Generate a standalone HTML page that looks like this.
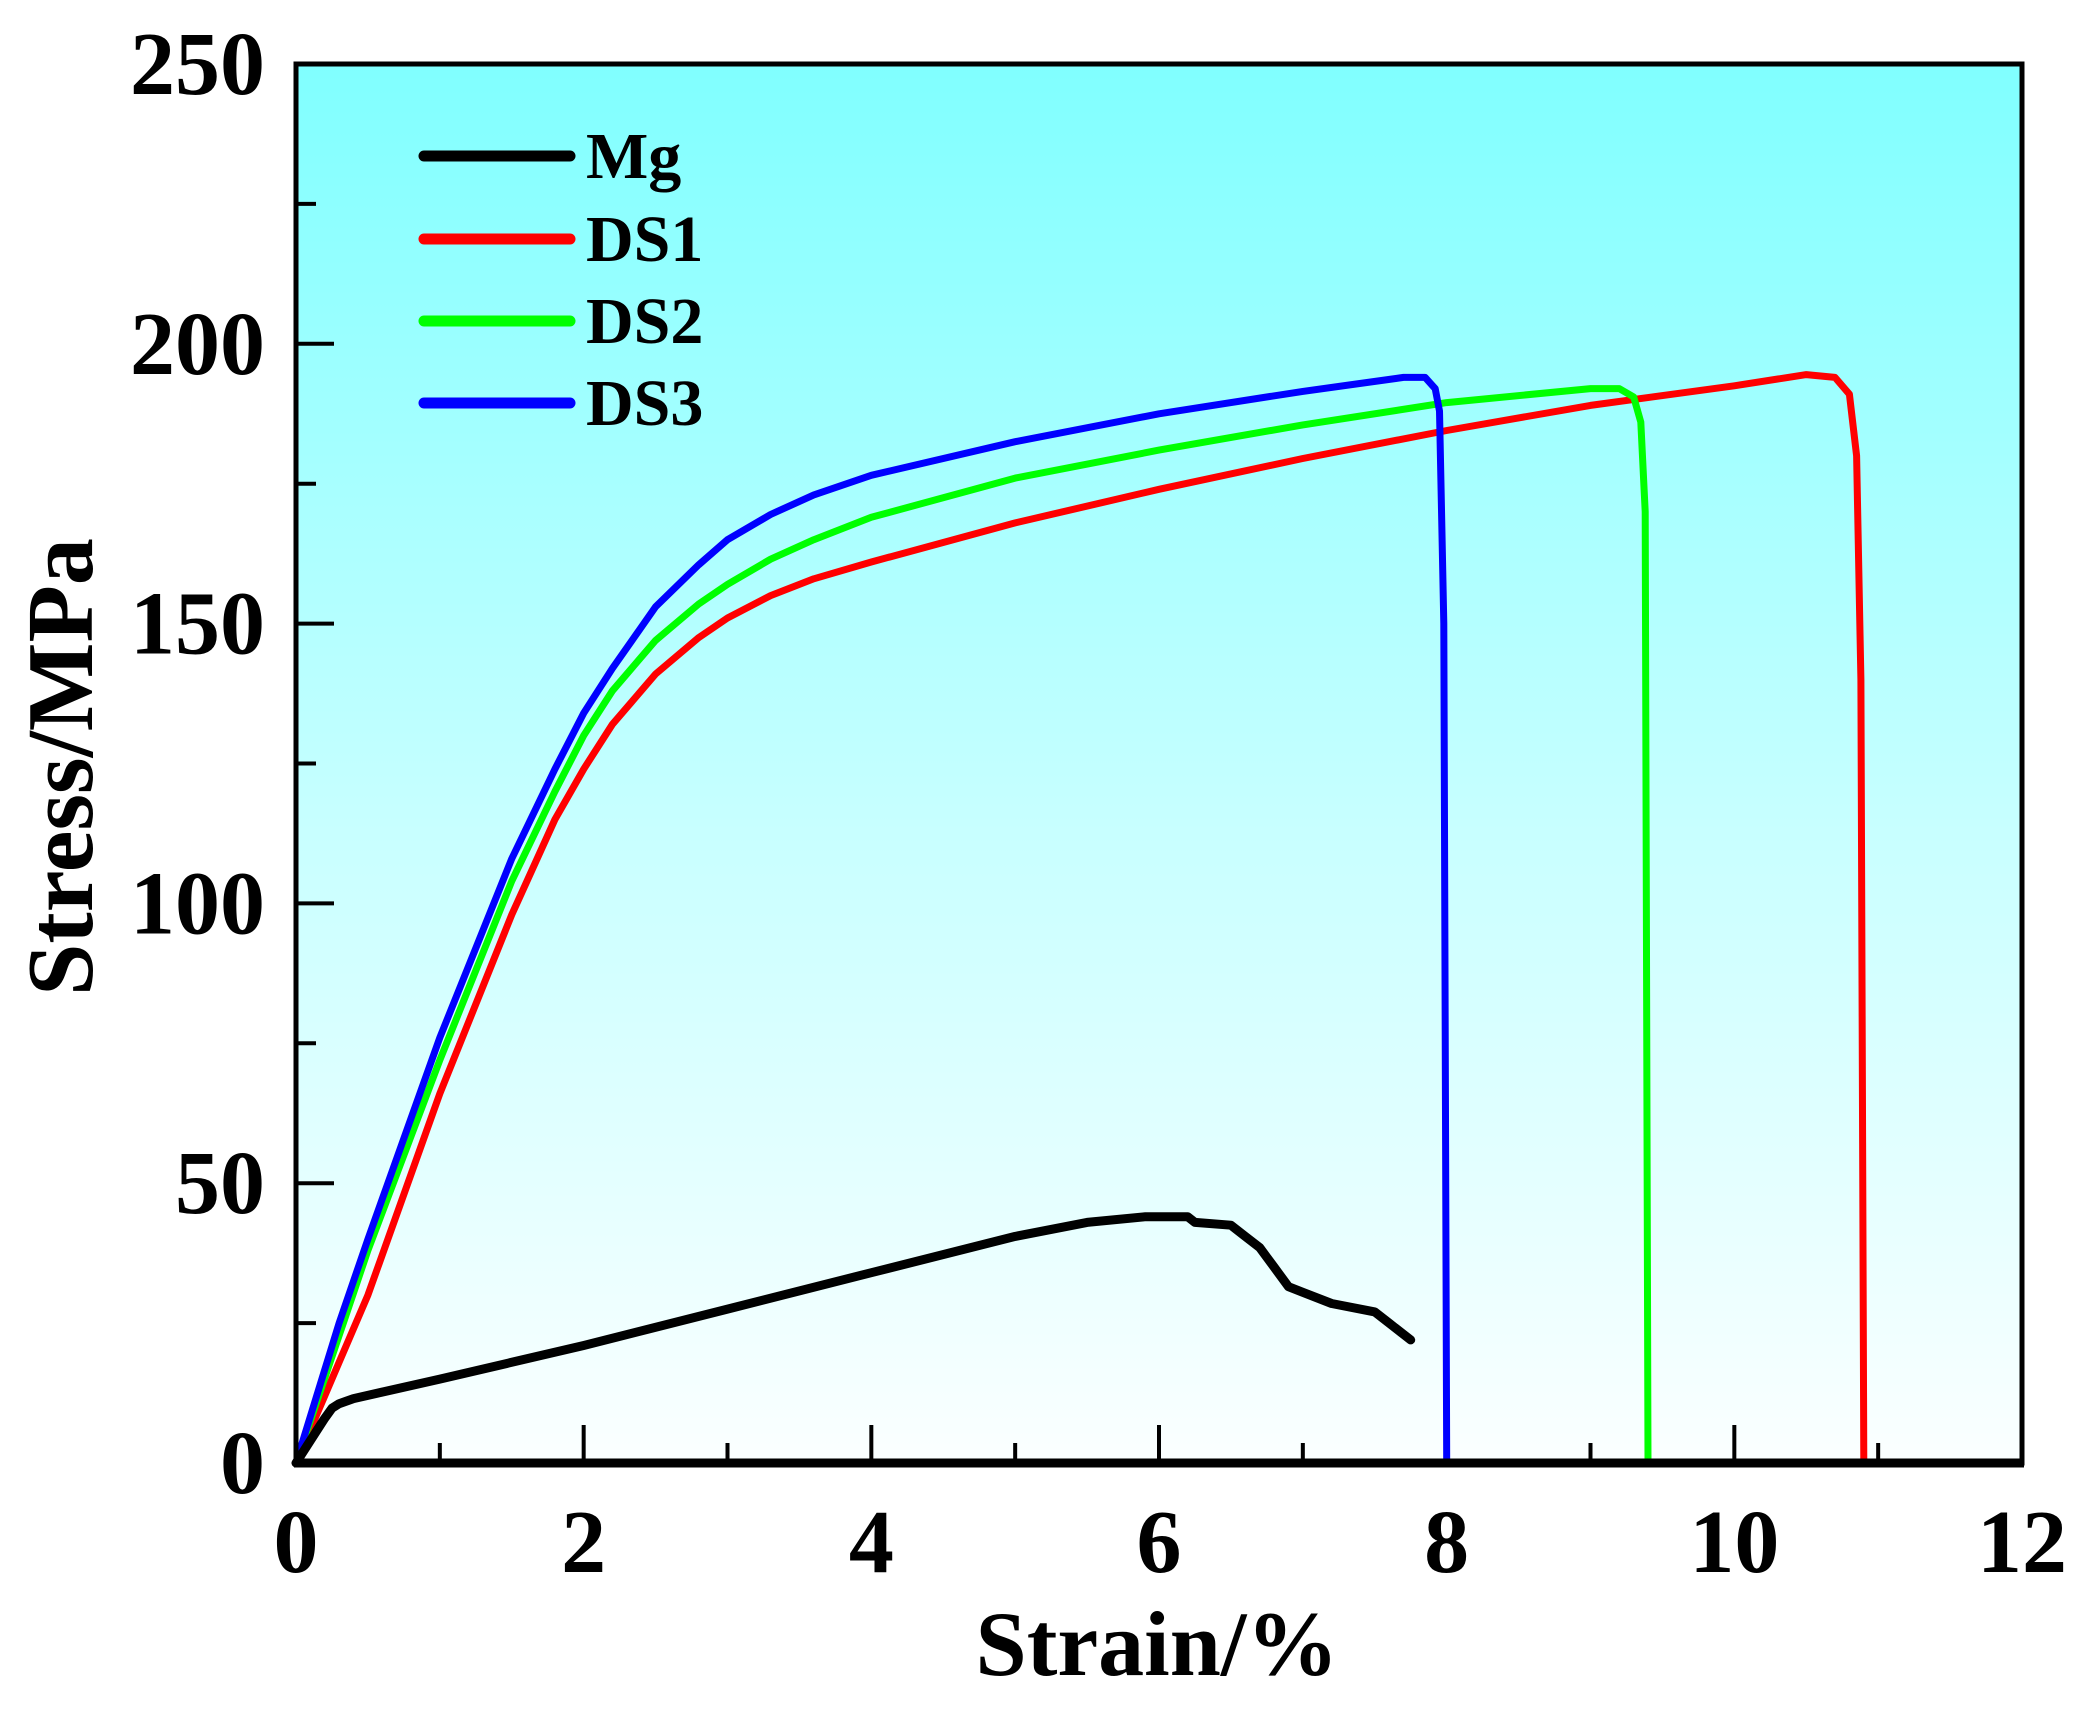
<!DOCTYPE html>
<html><head><meta charset="utf-8">
<style>html,body{margin:0;padding:0;background:#fff;}svg{display:block;}svg text{font-family:"Liberation Serif","Times New Roman",serif;font-weight:bold;}</style></head>
<body>
<svg id="chart" width="2091" height="1710" viewBox="0 0 2091 1710" xmlns="http://www.w3.org/2000/svg">
<defs><linearGradient id="bg" x1="0" y1="0" x2="0" y2="1"><stop offset="0" stop-color="#80ffff"/><stop offset="0.55" stop-color="#c8ffff"/><stop offset="1" stop-color="#fbffff"/></linearGradient></defs>
<rect x="296" y="64" width="1726" height="1399" fill="url(#bg)"/>
<g id="ticks"></g>
<g id="series"></g>
<rect x="296" y="64" width="1726" height="1399" fill="none" stroke="#000" stroke-width="5"/>
<line x1="294" y1="1463" x2="2024" y2="1463" stroke="#000" stroke-width="9"/>
<text transform="translate(92,767) rotate(-90)" text-anchor="middle" font-size="94">Stress/MPa</text>
<text x="1157" y="1675" text-anchor="middle" font-size="92">Strain/%</text>
<g>
<line x1="424" y1="156" x2="570" y2="156" stroke="#000" stroke-width="11" stroke-linecap="round"/>
<text x="586" y="178" font-size="66">Mg</text>
<line x1="424" y1="239" x2="570" y2="239" stroke="#ff0000" stroke-width="11" stroke-linecap="round"/>
<text x="586" y="261" font-size="66">DS1</text>
<line x1="424" y1="321" x2="570" y2="321" stroke="#00ff00" stroke-width="11" stroke-linecap="round"/>
<text x="586" y="343" font-size="66">DS2</text>
<line x1="424" y1="403" x2="570" y2="403" stroke="#0000ff" stroke-width="11" stroke-linecap="round"/>
<text x="586" y="425" font-size="66">DS3</text>
</g>
</svg>
<script>
const xTicks = [0, 2, 4, 6, 8, 10, 12];
const yTicks = [0, 50, 100, 150, 200, 250];
const mgStrain = [0,0.1,0.2,0.25,0.3,0.4,1,2,3,4,5,5.5,5.9,6.2,6.25,6.5,6.6,6.7,6.8,6.9,7.0,7.2,7.5,7.6,7.7,7.75];
const mgStress = [0,4,8,9.8,10.6,11.5,15,21,27.5,34,40.5,43,44,44,43,42.5,40.5,38.5,35,31.5,30.5,28.5,27,25,23,22];
const ds1Strain = [0,0.3,0.5,1,1.5,1.8,2,2.2,2.5,2.8,3,3.3,3.6,4,5,6,7,8,9,10,10.5,10.7,10.8,10.85,10.88,10.9];
const ds1Stress = [0,18,30,66,98,115,124,132,141,147.5,151,155,158,161,168,174,179.5,184.5,189,192.5,194.5,194,191,180,140,0];
const ds2Strain = [0,0.5,1,1.5,1.8,2,2.2,2.5,2.8,3,3.3,3.6,4,5,6,7,8,9,9.2,9.3,9.35,9.38,9.4];
const ds2Stress = [0,38,72,104,120,130,138,147,153.5,157,161.5,165,169,176,181,185.5,189.5,192,192,190.5,186,170,0];
const ds3Strain = [0,0.3,0.5,1,1.5,1.8,2,2.2,2.5,2.8,3,3.3,3.6,4,5,6,7,7.7,7.85,7.92,7.95,7.98,8.0];
const ds3Stress = [0,25,40,76,108,124,134,142,153,160.5,165,169.5,173,176.5,182.5,187.5,191.5,194,194,192,188,150,0];

const X0=296,X1=2022,Y0=1463,Y1=64;
function xs(v){return X0+(v/12)*(X1-X0);}
function ys(v){return Y0-(v/250)*(Y0-Y1);}
const NS='http://www.w3.org/2000/svg';
const tg=document.getElementById('ticks');
function mk(tag,attrs,parent){const e=document.createElementNS(NS,tag);for(const k in attrs)e.setAttribute(k,attrs[k]);parent.appendChild(e);return e;}
for(let v=0;v<=12;v+=1){
  const major=v%2===0;
  const l=mk('line',{x1:xs(v),x2:xs(v),y1:Y0,y2:Y0-(major?38:20),stroke:'#000','stroke-width':4},tg);
  
  
}
xTicks.forEach(v=>{
  const t=mk('text',{x:xs(v),y:1572,'text-anchor':'middle','font-size':90},tg);
  t.textContent=v;
  
  
});
for(let v=0;v<=250;v+=25){
  const major=v%50===0;
  const l=mk('line',{x1:X0,x2:X0+(major?38:20),y1:ys(v),y2:ys(v),stroke:'#000','stroke-width':4},tg);
  
  
}
yTicks.forEach(v=>{
  const t=mk('text',{x:265,y:ys(v)+30,'text-anchor':'end','font-size':90},tg);
  t.textContent=v;
  
  
});
const sg=document.getElementById('series');
function draw(xsArr,ysArr,color,w,name){
  const pts=xsArr.map((x,i)=>xs(x).toFixed(1)+','+ys(ysArr[i]).toFixed(1)).join(' ');
  const p=mk('polyline',{points:pts,fill:'none',stroke:color,'stroke-width':w,'stroke-linejoin':'round','stroke-linecap':'round'},sg);
  
  
}
draw(ds1Strain,ds1Stress,'#ff0000',7,'series-ds1');
draw(ds2Strain,ds2Stress,'#00ff00',7,'series-ds2');
draw(ds3Strain,ds3Stress,'#0000ff',7,'series-ds3');
draw(mgStrain,mgStress,'#000000',9,'series-mg');
</script>
</body></html>
